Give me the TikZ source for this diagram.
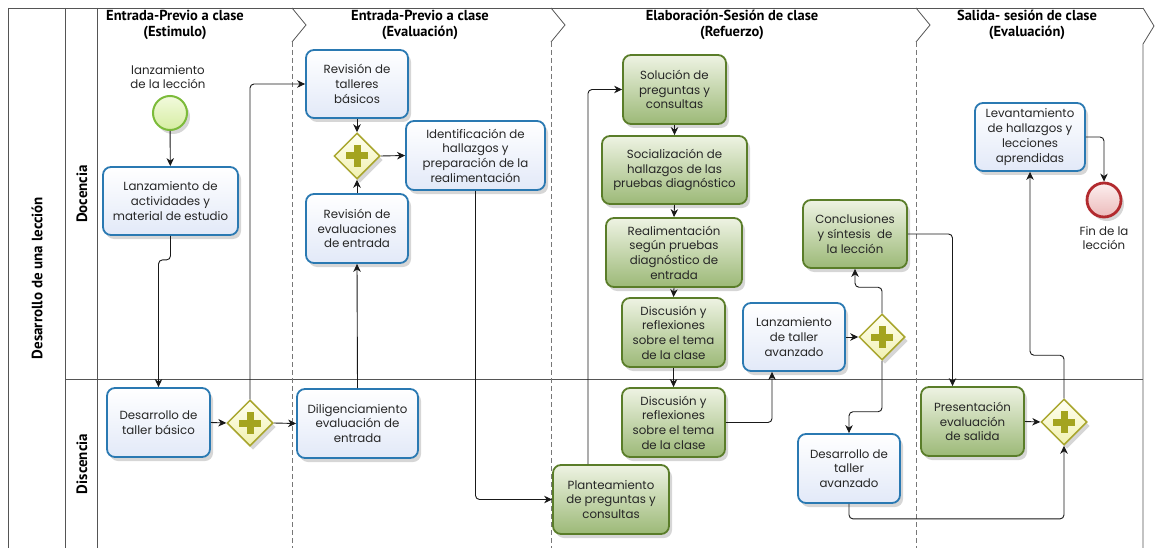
\documentclass[tikz,border=0pt]{standalone}
\usepackage{fontspec}
\setmainfont{Poppins}
\newfontfamily\headfont{PT Sans}
\usetikzlibrary{arrows.meta,shapes.geometric,shadows,calc}

\definecolor{taskEdge}{HTML}{2A79B2}
\definecolor{taskFill}{HTML}{E2E9F8}
\definecolor{workEdge}{HTML}{5A7D29}
\definecolor{workTop}{HTML}{EEF3E3}
\definecolor{workBot}{HTML}{9CB977}
\definecolor{gateEdge}{HTML}{A9A62E}
\definecolor{gateTop}{HTML}{FFFFF2}
\definecolor{gateBot}{HTML}{F1F1B0}
\definecolor{gatePlus}{HTML}{A4A41F}
\definecolor{startEdge}{HTML}{7CBB3A}
\definecolor{startTop}{HTML}{F2FADD}
\definecolor{startBot}{HTML}{D6EDA2}
\definecolor{endEdge}{HTML}{B22A2E}
\definecolor{endTop}{HTML}{FCEFEF}
\definecolor{endBot}{HTML}{ECBABA}
\definecolor{poolLine}{HTML}{555555}

\tikzset{
  x=1pt, y=-1pt,
  every node/.style={font=\fontsize{11.8}{14.7}\selectfont, text=black!85, align=center},
  sz/.style 2 args={minimum width=#1, minimum height=#2},
  softshadow/.style={drop shadow={shadow xshift=3pt, shadow yshift=-4pt, opacity=0.16, fill=black}},
  boxbase/.style={rectangle, rounded corners=8pt, line width=1.8pt, inner sep=0pt, softshadow},
  bluetask/.style={boxbase, draw=taskEdge, top color=white, bottom color=taskFill},
  greentask/.style={boxbase, draw=workEdge, top color=workTop, bottom color=workBot},
  gate/.style={diamond, draw=gateEdge, line width=1.5pt, top color=gateTop, bottom color=gateBot,
    minimum width=46pt, minimum height=46pt, inner sep=0pt, softshadow,
    path picture={
      \fill[gatePlus] ($(path picture bounding box.center)+(-11pt,-3.5pt)$) rectangle ++(22pt,7pt);
      \fill[gatePlus] ($(path picture bounding box.center)+(-3.5pt,-11pt)$) rectangle ++(7pt,22pt);
    }},
  startev/.style={circle, draw=startEdge, line width=2pt, top color=startTop, bottom color=startBot,
    minimum size=34pt, inner sep=0pt, softshadow},
  endev/.style={circle, draw=endEdge, line width=2.8pt, top color=endTop, bottom color=endBot,
    minimum size=34pt, inner sep=0pt, softshadow},
  flow/.style={draw=black!90, line width=0.9pt, rounded corners=4pt,
    -{Stealth[length=8pt, width=7.5pt, inset=2.5pt]}},
  pool/.style={draw=poolLine, line width=0.8pt},
  divider/.style={draw=poolLine!80, line width=0.8pt, dash pattern=on 5pt off 3pt},
  headtext/.style={font=\headfont\bfseries\fontsize{14.5}{16}\selectfont, text=black},
  lanetext/.style={font=\headfont\bfseries\fontsize{15}{16}\selectfont, text=black, rotate=90},
  evlabel/.style={font=\fontsize{11.8}{14.7}\selectfont, text=black!85},
}

\begin{document}
\begin{tikzpicture}
  \useasboundingbox (0,0) rectangle (1155,548);
  \fill[white] (0,0) rectangle (1155,548);

  % pool frame, lanes and phase dividers
  \draw[pool] (8,8) -- (1143,8);
  \draw[pool] (8,8) -- (8,548);
  \draw[pool] (65,8) -- (65,548);
  \draw[pool] (97,8) -- (97,548);
  \draw[pool] (65,379) -- (1143,379);
  \foreach \xc in {292,551,916} {
    \draw[pool] (\xc,8) -- (\xc+14,25) -- (\xc,42);
    \draw[divider] (\xc,42) -- (\xc,548);
  }
  \draw[pool] (1143,8) -- (1154,26) -- (1143,44) -- (1143,548);

  % pool and lane titles
  \node[lanetext] (pooltitle) at (37,278) {Desarrollo de una lección};
  \node[lanetext] (lanedoc) at (82,194) {Docencia};
  \node[lanetext] (lanedis) at (82,464) {Discencia};

  % phase headers
  \node[headtext] (h1) at (175,25) {Entrada-Previo a clase\\(Estimulo)};
  \node[headtext] (h2) at (420,25) {Entrada-Previo a clase\\(Evaluación)};
  \node[headtext] (h3) at (732,25) {Elaboración-Sesión de clase\\(Refuerzo)};
  \node[headtext] (h4) at (1027,25) {Salida- sesión de clase\\(Evaluación)};

  % events
  \node[startev] (start) at (170,113) {};
  \node[evlabel] (startlbl) at (168,77) {lanzamiento\\de la lección};
  \node[endev] (fin) at (1104,200) {};
  \node[evlabel] (finlbl) at (1104,238) {Fin de la\\lección};

  % blue tasks
  \node[bluetask, sz={135pt}{68pt}] (t1) at (170.5,201) {Lanzamiento de\\actividades y\\material de estudio};
  \node[bluetask, sz={103pt}{69pt}] (t2) at (158.5,422.5) {Desarrollo de\\taller básico};
  \node[bluetask, sz={102pt}{68pt}] (t3) at (357,84) {Revisión de\\talleres\\básicos};
  \node[bluetask, sz={102pt}{69pt}] (t4) at (357,228.5) {Revisión de\\evaluaciones\\de entrada};
  \node[bluetask, sz={139pt}{69pt}] (t5) at (475.5,155.5) {Identificación de\\hallazgos y\\preparación de la\\realimentación};
  \node[bluetask, sz={121pt}{69pt}] (t6) at (357.5,423.5) {Diligenciamiento\\evaluación de\\entrada};
  \node[bluetask, sz={102pt}{68pt}] (t7) at (794,337) {Lanzamiento\\de taller\\avanzado};
  \node[bluetask, sz={102pt}{69pt}] (t8) at (849,468.5) {Desarrollo de\\taller\\avanzado};
  \node[bluetask, sz={110pt}{68pt}] (lev) at (1030,137) {Levantamiento\\de hallazgos y\\lecciones\\aprendidas};

  % green tasks
  \node[greentask, sz={103pt}{69pt}] (ga) at (674.5,89.5) {Solución de\\preguntas y\\consultas};
  \node[greentask, sz={145pt}{68pt}] (gb) at (674.5,170) {Socialización de\\hallazgos de las\\pruebas diagnóstico};
  \node[greentask, sz={136pt}{69pt}] (gc) at (674,252.5) {Realimentación\\según pruebas\\diagnóstico de\\entrada};
  \node[greentask, sz={103pt}{69pt}] (gd) at (673.5,332.5) {Discusión y\\reflexiones\\sobre el tema\\de la clase};
  \node[greentask, sz={103pt}{69pt}] (ge) at (673.5,422.5) {Discusión y\\reflexiones\\sobre el tema\\de la clase};
  \node[greentask, sz={116pt}{69pt}] (gf) at (611,499.5) {Planteamiento\\de preguntas y\\consultas};
  \node[greentask, sz={104pt}{68pt}] (conc) at (855,234) {Conclusiones\\y síntesis~ de\\la lección};
  \node[greentask, sz={103pt}{69pt}] (pres) at (972.5,421.5) {Presentación\\evaluación\\de salida};

  % gateways
  \node[gate] (g1) at (250,423) {};
  \node[gate] (g2) at (357,156) {};
  \node[gate] (g3) at (882,337) {};
  \node[gate] (g4) at (1064,422) {};

  % sequence flows
  \draw[flow] (start) -- (t1);
  \draw[flow] (t1.south) -- ++(0,24) -| (t2.north);
  \draw[flow] (t2.east) -- (g1.west);
  \draw[flow] (g1.east) -- (t6.west);
  \draw[flow] (g1.north) |- (t3.west);
  \draw[flow] (t3.south) -- (g2.north);
  \draw[flow] (t4.north) -- (g2.south);
  \draw[flow] (t6.north) -- (t4.south);
  \draw[flow] (g2.east) -- (t5.west);
  \draw[flow] (t5.south) |- (gf.west);
  \draw[flow] ([xshift=-23pt]gf.north) |- (ga.west);
  \draw[flow] (ga.south) -- (gb.north);
  \draw[flow] (gb.south) -- (gc.north);
  \draw[flow] (gc.south) -- (gd.north);
  \draw[flow] (gd.south) -- (ge.north);
  \draw[flow] (ge.east) -| ([xshift=-22pt]t7.south);
  \draw[flow] (t7.east) -- (g3.west);
  \draw[flow] (g3.north) -- ++(0,-26) -| (conc.south);
  \draw[flow] (g3.south) -- ++(0,51) -| (t8.north);
  \draw[flow] (conc.east) -| ([xshift=-20pt]pres.north);
  \draw[flow] (pres.east) -- (g4.west);
  \draw[flow] (t8.south) -- ++(0,15) -| (g4.south);
  \draw[flow] (g4.north) -- ++(0,-43) -| (lev.south);
  \draw[flow] (lev.east) -| (fin.north);
\end{tikzpicture}
\end{document}
